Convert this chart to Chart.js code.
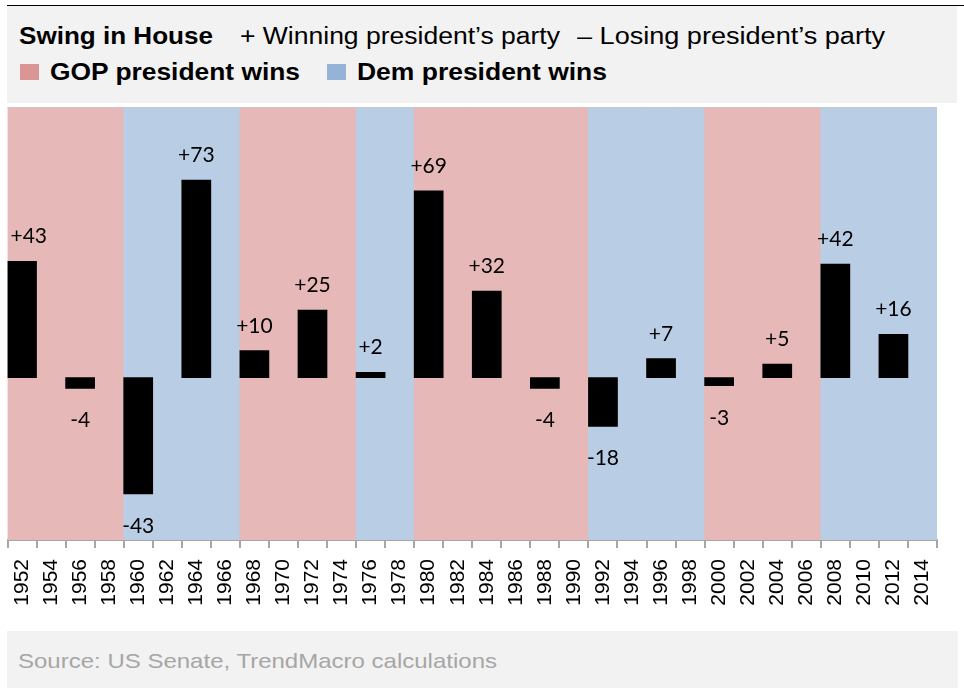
<!DOCTYPE html>
<html><head><meta charset="utf-8">
<script src="https://cdn.jsdelivr.net/npm/chart.js@4"></script>
<style>
html,body{margin:0;padding:0;background:#fff;}
#wrap{position:relative;width:964px;height:688px;overflow:hidden;background:#fff;}
canvas{position:absolute;left:0;top:0;}
.box{position:absolute;background:#f2f2f2;}
.t{position:absolute;white-space:nowrap;font-family:"Liberation Sans",Arial,sans-serif;line-height:1;transform-origin:0 0;color:#000;}
.b{font-weight:bold;}
.sq{position:absolute;}
</style></head>
<body><div id="wrap">
<canvas id="c" width="964" height="688"></canvas>
<div style="position:absolute;left:7px;top:5px;width:957px;height:1px;background:#000"></div>
<div class="box" style="left:7px;top:6px;width:950px;height:97px"></div>
<div class="box" style="left:7px;top:631px;width:951px;height:57px"></div>
<span class="t b" data-x="19" data-b="45" data-w="194" data-fs="23.5">Swing in House</span>
<span class="t" data-x="240" data-b="45" data-w="320" data-fs="23.5">+ Winning president’s party</span>
<span class="t" data-x="577" data-b="45" data-w="308" data-fs="23.5">– Losing president’s party</span>
<div class="sq" style="left:20px;top:64px;width:19px;height:16px;background:#d99694"></div>
<span class="t b" data-x="50" data-b="81" data-w="250" data-fs="23.5">GOP president wins</span>
<div class="sq" style="left:327px;top:64px;width:19px;height:16px;background:#95b3d7"></div>
<span class="t b" data-x="357" data-b="81" data-w="250" data-fs="23.5">Dem president wins</span>
<span class="t" style="color:#a6a6a6" data-x="18" data-b="668" data-w="479" data-fs="21">Source: US Senate, TrendMacro calculations</span>
</div>
<script>
// ---- data ----
const years = ['1952','1954','1956','1958','1960','1962','1964','1966','1968','1970','1972','1974','1976','1978','1980','1982','1984','1986','1988','1990','1992','1994','1996','1998','2000','2002','2004','2006','2008','2010','2012','2014'];
const electionYears = ['1952','1956','1960','1964','1968','1972','1976','1980','1984','1988','1992','1996','2000','2004','2008','2012'];
const swing = [43,-4,-43,73,10,25,2,69,32,-4,-18,7,-3,5,42,16];
const winner = ['GOP','GOP','Dem','Dem','GOP','GOP','Dem','GOP','GOP','GOP','Dem','Dem','GOP','GOP','Dem','Dem'];
const yMin = -60, yMax = 100;

const bandColors = {GOP:'#e6b8b7', Dem:'#b9cde5'};

// ---- header/footer text fitting ----
document.querySelectorAll('.t').forEach(el=>{
  const fs=parseFloat(el.dataset.fs);
  el.style.fontSize=fs+'px';
  el.style.left=el.dataset.x+'px';
  el.style.top=(parseFloat(el.dataset.b)-0.8465*fs)+'px';
  const w=el.getBoundingClientRect().width;
  el.style.transform='scaleX('+(parseFloat(el.dataset.w)/w)+')';
});

// ---- derived series ----
const swingSeries = years.map(y=>{const i=electionYears.indexOf(y);return i>=0?swing[i]:null;});
const bandParty = years.map(y=>{let k=0;electionYears.forEach((e,i)=>{if(+e<=+y)k=i;});return winner[k];});
const bandSeries = years.map(()=>[yMin,yMax]);

const labelPlugin = {
  id:'labels',
  afterDatasetsDraw(chart){
    const ctx=chart.ctx, meta=chart.getDatasetMeta(0), ca=chart.chartArea;
    ctx.save();
    // top dashed border
    ctx.strokeStyle='#c8c8c8'; ctx.lineWidth=1; ctx.setLineDash([3,2]);
    ctx.beginPath(); ctx.moveTo(ca.left, ca.top+0.5); ctx.lineTo(ca.right, ca.top+0.5); ctx.stroke();
    ctx.setLineDash([]);
    ctx.font='21px Lato, "Open Sans", sans-serif';
    ctx.fillStyle='#000'; ctx.textAlign='center'; ctx.textBaseline='alphabetic';
    meta.data.forEach((el,i)=>{
      const v=swingSeries[i]; if(v===null) return;
      const txt=(v>0?'+':'')+v;
      const y = v>=0 ? el.y-18 : el.y+39;
      const w = ctx.measureText(txt).width;
      const x = Math.max(el.x, ca.left+3+w/2);
      ctx.fillText(txt, x, y);
    });
    ctx.restore();
  }
};

new Chart(document.getElementById('c'),{
  type:'bar',
  data:{
    labels:years,
    datasets:[
      {label:'Swing', data:swingSeries, backgroundColor:'#000', barPercentage:1, categoryPercentage:1, grouped:false, order:0},
      {label:'Bands', data:bandSeries, backgroundColor:bandParty.map(p=>bandColors[p]), barPercentage:1, categoryPercentage:1, grouped:false, order:1}
    ]
  },
  options:{
    responsive:false, animation:false,
    layout:{padding:{left:7.5,right:27,top:107,bottom:68}},
    plugins:{legend:{display:false}, tooltip:{enabled:false}},
    scales:{
      x:{
        grid:{offset:true, drawOnChartArea:false, drawTicks:true, tickLength:8, color:'#a6a6a6', lineWidth:2},
        border:{display:true, color:'#a6a6a6', width:2},
        ticks:{minRotation:90, maxRotation:90, autoSkip:false, padding:11, color:'#000', font:{family:'"Liberation Sans", Arial, sans-serif', size:21}},
        afterFit(s){ s.height=80; }
      },
      y:{display:false, min:yMin, max:yMax}
    }
  },
  plugins:[labelPlugin]
});
</script>
</body></html>
